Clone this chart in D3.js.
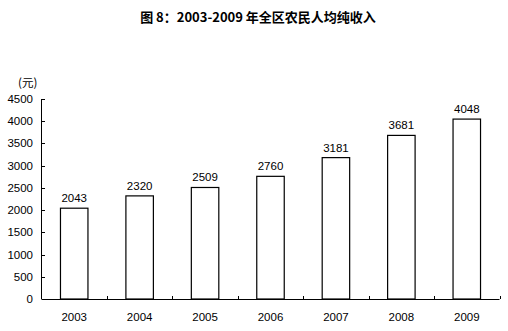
<html>
<script src="https://d3js.org/d3.v7.min.js"></script>
<style>
    body { margin: 0; background: #fff; }
    text { font-family: Arial, "Liberation Sans", sans-serif; font-size: 11.5px; fill: #000; }
    .title { font-family: "Noto Sans CJK SC", sans-serif; font-size: 13px; font-weight: bold; text-anchor: middle; }
    .bar { fill: #fff; stroke: #000; stroke-width: 1.2px; }
    .axis path, .axis line { stroke: #000; shape-rendering: crispEdges; }
</style>
<svg width=508 height=331></svg>
<script>
    let years = ['2003', '2004', '2005', '2006', '2007', '2008', '2009'];
    let income = [2043, 2320, 2509, 2760, 3181, 3681, 4048];
    let yTicks = [0, 500, 1000, 1500, 2000, 2500, 3000, 3500, 4000, 4500];

    let svg = d3.select('svg'),
        plotLeft = 41.5, plotRight = 499.5, plotTop = 99, plotBottom = 299;

    svg.append('text')
        .attr('class', 'title')
        .attr('x', 258).attr('y', 22)
        .text('图 8：2003-2009 年全区农民人均纯收入');

    svg.append('text')
        .attr('x', 18).attr('y', 87)
        .style('font-family', '"Noto Sans CJK SC", sans-serif')
        .text('(元)');

    let x = d3.scaleBand().domain(years).range([plotLeft, plotRight]).paddingInner(0.58).paddingOuter(0.29);
    let y = d3.scaleLinear().domain([0, 4500]).range([plotBottom, plotTop]);

    // y axis: ticks pointing inward
    let ya = svg.append('g').attr('class', 'axis')
        .attr('transform', 'translate(' + plotLeft + ',0)')
        .call(d3.axisRight(y).tickValues(yTicks).tickSize(3).tickSizeOuter(0));
    ya.selectAll('text').remove();
    ya.select('.domain').attr('d', 'M0,' + plotTop + 'V' + plotBottom);

    svg.append('g').selectAll('text')
        .data(yTicks).enter().append('text')
        .attr('x', 33).attr('y', d => y(d) + 4)
        .attr('text-anchor', 'end')
        .text(d => d);

    // x axis line + boundary ticks
    let step = (plotRight - plotLeft) / years.length;
    svg.append('line')
        .attr('x1', plotLeft).attr('x2', plotRight).attr('y1', plotBottom + 0.5).attr('y2', plotBottom + 0.5)
        .attr('stroke', '#000');
    svg.append('g').selectAll('line')
        .data(d3.range(1, years.length + 1)).enter().append('line')
        .attr('x1', i => Math.round(plotLeft + i * step) + 0.5)
        .attr('x2', i => Math.round(plotLeft + i * step) + 0.5)
        .attr('y1', plotBottom).attr('y2', plotBottom - 3)
        .attr('stroke', '#000');

    svg.append('g').selectAll('text')
        .data(years).enter().append('text')
        .attr('x', d => x(d) + x.bandwidth() / 2)
        .attr('y', 321)
        .attr('text-anchor', 'middle')
        .text(d => d);

    svg.append('g').selectAll('rect')
        .data(income).enter().append('rect')
        .attr('class', 'bar')
        .attr('x', (d, i) => x(years[i]))
        .attr('y', d => y(d))
        .attr('width', x.bandwidth())
        .attr('height', d => plotBottom - y(d));

    svg.append('g').selectAll('text')
        .data(income).enter().append('text')
        .attr('x', (d, i) => x(years[i]) + x.bandwidth() / 2)
        .attr('y', d => y(d) - 6)
        .attr('text-anchor', 'middle')
        .text(d => d);
</script>
</html>
